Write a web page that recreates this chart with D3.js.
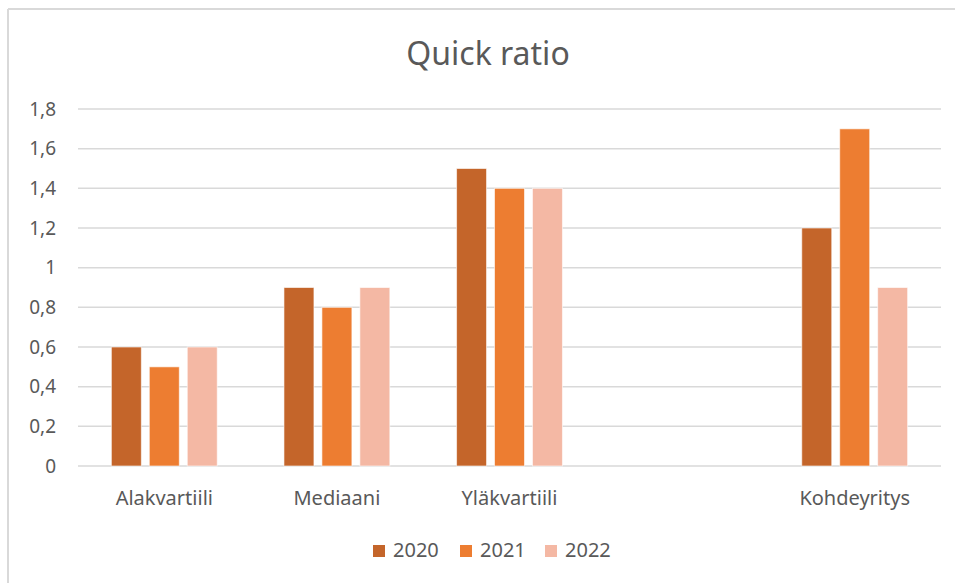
<!DOCTYPE html>
<html lang="fi">
<head>
<meta charset="utf-8">
<title>Quick ratio</title>
<script src="https://cdn.jsdelivr.net/npm/d3@7"></script>
<style>
body { margin: 0; background: #fff; }
text { font-family: "Noto Sans", sans-serif; fill: #595959; }
.grid line { stroke: #d9d9d9; stroke-width: 1.5; }
</style>
</head>
<body>
<div id="chart"></div>
<script>

var categories = ["Alakvartiili", "Mediaani", "Yläkvartiili", "", "Kohdeyritys"];
var seriesNames = ["2020", "2021", "2022"];
var values2020 = [0.6, 0.9, 1.5, null, 1.2];
var values2021 = [0.5, 0.8, 1.4, null, 1.7];
var values2022 = [0.6, 0.9, 1.4, null, 0.9];
var yTicks = [0, 0.2, 0.4, 0.6, 0.8, 1, 1.2, 1.4, 1.6, 1.8];

var colors = ["#c4652a", "#ed7d31", "#f4b8a4"];
var series = [values2020, values2021, values2022];

var width = 955, height = 583;
var margin = {top: 109, right: 14, bottom: 117, left: 78};

var svg = d3.select("#chart").append("svg")
    .attr("width", width)
    .attr("height", height);

// chart frame (only top and left edges show)
svg.append("line").attr("x1", 8).attr("x2", width).attr("y1", 9).attr("y2", 9)
    .attr("stroke", "#d9d9d9").attr("stroke-width", 2);
svg.append("line").attr("x1", 8).attr("x2", 8).attr("y1", 9).attr("y2", height)
    .attr("stroke", "#d9d9d9").attr("stroke-width", 2);

var x0 = d3.scaleBand()
    .domain(categories.map((d, i) => i))
    .range([margin.left, width - margin.right])
    .paddingInner(0.3866)
    .paddingOuter(0.1933);

var x1 = d3.scaleBand()
    .domain(seriesNames)
    .range([0, x0.bandwidth()])
    .paddingInner(0.21);

var y = d3.scaleLinear()
    .domain([0, 1.8])
    .range([height - margin.bottom, margin.top]);

var locale = d3.formatLocale({decimal: ",", thousands: " ", grouping: [3], currency: ["", "€"]});
var fmt = locale.format(".1~f");

// gridlines
svg.append("g")
    .attr("class", "grid")
    .selectAll("line")
    .data(yTicks)
    .enter().append("line")
        .attr("x1", margin.left)
        .attr("x2", width - margin.right)
        .attr("y1", d => y(d))
        .attr("y2", d => y(d));

// y labels
svg.append("g").selectAll("text")
    .data(yTicks)
    .enter().append("text")
        .attr("x", 56)
        .attr("y", d => y(d))
        .attr("dy", "0.35em")
        .style("text-anchor", "end")
        .style("font-size", "19px")
        .text(d => fmt(d));

// bars
var groups = svg.append("g").selectAll("g")
    .data(categories)
    .enter().append("g")
        .attr("transform", (d, i) => "translate(" + x0(i) + ",0)");

groups.selectAll("rect")
    .data((d, i) => series.map((s, j) => ({name: seriesNames[j], value: s[i], color: colors[j]})).filter(b => b.value != null))
    .enter().append("rect")
        .attr("x", b => x1(b.name))
        .attr("width", x1.bandwidth())
        .attr("y", b => y(b.value))
        .attr("height", b => y(0) - y(b.value))
        .attr("fill", b => b.color)
        .attr("stroke", "#fff")
        .attr("stroke-opacity", 0.6)
        .attr("stroke-width", 1);

// x labels
svg.append("g").selectAll("text")
    .data(categories)
    .enter().append("text")
        .attr("x", (d, i) => x0(i) + x0.bandwidth() / 2)
        .attr("y", 505)
        .style("text-anchor", "middle")
        .style("font-size", "20px")
        .text(d => d);

// title
svg.append("text")
    .attr("x", 488)
    .attr("y", 65)
    .style("text-anchor", "middle")
    .style("font-size", "32px")
    .text("Quick ratio");

// legend
var legend = svg.append("g").selectAll("g")
    .data(seriesNames)
    .enter().append("g")
        .attr("transform", (d, i) => "translate(" + [373, 460, 545][i] + ",545)");

legend.append("rect")
    .attr("width", 12)
    .attr("height", 12)
    .attr("fill", (d, i) => colors[i]);

legend.append("text")
    .attr("x", 20)
    .attr("y", 12)
    .style("font-size", "20px")
    .text(d => d);

</script>
</body>
</html>
